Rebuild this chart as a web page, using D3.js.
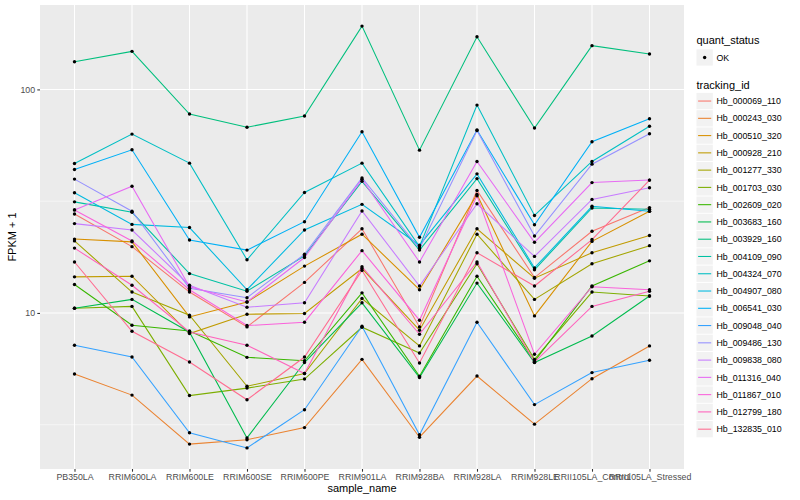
<!DOCTYPE html>
<html>
<head>
<meta charset="utf-8">
<script src="https://cdn.jsdelivr.net/npm/d3@7"></script>
<style>
  body { margin: 0; background: #fff; }
  svg { display: block; font-family: "Liberation Sans", Arial, sans-serif; }
</style>
</head>
<body>
<svg id="chart" width="800" height="500"></svg>
<script>
var samples = ["PB350LA", "RRIM600LA", "RRIM600LE", "RRIM600SE", "RRIM600PE", "RRIM901LA",
  "RRIM928BA", "RRIM928LA", "RRIM928LE", "RRII105LA_Control", "RRII105LA_Stressed"];

var trackingIds = ["Hb_000069_110", "Hb_000243_030", "Hb_000510_320", "Hb_000928_210", "Hb_001277_330",
  "Hb_001703_030", "Hb_002609_020", "Hb_003683_160", "Hb_003929_160", "Hb_004109_090",
  "Hb_004324_070", "Hb_004907_080", "Hb_006541_030", "Hb_009048_040", "Hb_009486_130",
  "Hb_009838_080", "Hb_011316_040", "Hb_011867_010", "Hb_012799_180", "Hb_132835_010"];

// FPKM + 1, one value per sample
var hb_000069_110 = [27.7, 19.8, 12.4, 8.66, 13.7, 23.8, 8.66, 35.3, 14.4, 23.2, 29.6];
var hb_000243_030 = [5.33, 4.29, 2.59, 2.71, 3.07, 6.20, 2.78, 5.22, 3.18, 5.08, 7.12];
var hb_000510_320 = [21.4, 20.8, 9.60, 11.2, 16.2, 22.5, 12.7, 33.9, 9.70, 20.9, 28.5];
var hb_000928_210 = [14.5, 14.6, 8.09, 9.87, 9.94, 15.8, 8.37, 23.8, 14.3, 18.6, 22.2];
var hb_001277_330 = [21.0, 12.4, 9.77, 4.70, 5.36, 11.6, 7.12, 22.5, 11.5, 16.6, 20.0];
var hb_001703_030 = [10.5, 10.7, 4.27, 4.61, 5.06, 8.63, 6.62, 16.6, 6.20, 12.4, 11.9];
var hb_002609_020 = [13.4, 8.81, 8.31, 6.33, 6.11, 12.3, 5.21, 14.6, 6.08, 13.2, 17.1];
var hb_003683_160 = [10.5, 11.5, 8.20, 2.76, 6.00, 11.1, 5.14, 13.6, 6.00, 7.89, 11.9];
var hb_003929_160 = [133, 148, 77.6, 67.7, 76.0, 192, 53.5, 172, 67.2, 157, 144];
var hb_004109_090 = [31.4, 28.2, 15.0, 12.5, 18.0, 38.8, 19.1, 39.9, 15.6, 29.5, 29.1];
var hb_004324_070 = [46.6, 63.1, 46.8, 17.3, 34.6, 46.8, 19.8, 85.1, 27.3, 47.6, 68.4];
var hb_004907_080 = [34.5, 24.9, 24.1, 12.7, 23.5, 30.6, 20.1, 41.9, 15.9, 30.0, 28.5];
var hb_006541_030 = [43.8, 53.7, 21.2, 19.1, 25.6, 64.7, 21.8, 65.8, 24.8, 58.3, 73.9];
var hb_009048_040 = [7.17, 6.35, 2.91, 2.49, 3.69, 8.72, 2.85, 9.09, 3.89, 5.41, 6.14];
var hb_009486_130 = [39.7, 28.5, 12.9, 11.7, 18.3, 40.2, 19.4, 65.5, 22.1, 46.3, 63.3];
var hb_009838_080 = [25.1, 23.5, 13.3, 10.6, 11.1, 28.6, 13.2, 30.8, 17.9, 32.2, 36.3];
var hb_011316_040 = [28.9, 36.9, 13.1, 11.2, 17.7, 39.6, 16.9, 47.6, 20.7, 38.3, 39.3];
var hb_011867_010 = [28.9, 21.0, 12.7, 8.78, 9.09, 19.0, 9.28, 33.4, 6.53, 13.1, 12.7];
var hb_012799_180 = [19.5, 13.3, 8.22, 7.17, 5.36, 16.1, 8.03, 16.9, 6.02, 10.7, 12.5];
var hb_132835_010 = [16.9, 8.28, 6.03, 4.09, 6.35, 15.5, 5.97, 18.6, 13.2, 21.3, 39.3];

var seriesValues = [hb_000069_110, hb_000243_030, hb_000510_320, hb_000928_210, hb_001277_330,
  hb_001703_030, hb_002609_020, hb_003683_160, hb_003929_160, hb_004109_090,
  hb_004324_070, hb_004907_080, hb_006541_030, hb_009048_040, hb_009486_130,
  hb_009838_080, hb_011316_040, hb_011867_010, hb_012799_180, hb_132835_010];

var quantStatus = ["OK"];
var yTicks = [10, 100];
var yMinorTicks = [3.162, 31.62, 316.2];

var palette = ["#F8766D", "#EA8331", "#D89000", "#C09B00", "#A3A500", "#7CAE00", "#39B600", "#00BB4E",
  "#00BF7D", "#00C1A3", "#00BFC4", "#00BAE0", "#00B0F6", "#35A2FF", "#9590FF", "#C77CFF",
  "#E76BF3", "#FA62DB", "#FF62BC", "#FF6C91"];

function draw() {
  var margin = {top: 5, right: 116, bottom: 31, left: 40};
  var width = 800 - margin.left - margin.right;
  var height = 500 - margin.top - margin.bottom;

  var svg = d3.select("#chart");
  svg.selectAll("*").remove();

  var series = trackingIds.map(function(id, i) {
    return {id: id, values: seriesValues[i].map(function(v, j) { return {sample: samples[j], value: v}; })};
  });

  var allValues = d3.merge(seriesValues);
  var lo = Math.log10(d3.min(allValues)), hi = Math.log10(d3.max(allValues));
  var pad = (hi - lo) * 0.05;

  var x = d3.scalePoint().domain(samples).range([0, width]).padding(0.6);
  var y = d3.scaleLog().domain([Math.pow(10, lo - pad), Math.pow(10, hi + pad)]).range([height, 0]);
  var color = d3.scaleOrdinal().domain(trackingIds).range(palette);

  var g = svg.append("g")
    .attr("transform", "translate(" + margin.left + "," + margin.top + ")");

  g.append("rect")
    .attr("width", width)
    .attr("height", height)
    .attr("fill", "#EBEBEB");

  var yDomain = y.domain();
  g.selectAll("line.minor")
    .data(yMinorTicks.filter(function(d) { return d > yDomain[0] && d < yDomain[1]; }))
    .enter().append("line")
    .attr("class", "minor")
    .attr("x1", 0).attr("x2", width)
    .attr("y1", function(d) { return y(d); })
    .attr("y2", function(d) { return y(d); })
    .attr("stroke", "#fff").attr("stroke-width", 0.53);

  g.selectAll("line.major")
    .data(yTicks)
    .enter().append("line")
    .attr("class", "major")
    .attr("x1", 0).attr("x2", width)
    .attr("y1", function(d) { return y(d); })
    .attr("y2", function(d) { return y(d); })
    .attr("stroke", "#fff").attr("stroke-width", 1.07);

  g.selectAll("line.vgrid")
    .data(samples)
    .enter().append("line")
    .attr("class", "vgrid")
    .attr("y1", 0).attr("y2", height)
    .attr("x1", function(d) { return x(d); })
    .attr("x2", function(d) { return x(d); })
    .attr("stroke", "#fff").attr("stroke-width", 1.07);

  var line = d3.line()
    .x(function(d) { return x(d.sample); })
    .y(function(d) { return y(d.value); });

  g.selectAll("path.series")
    .data(series)
    .enter().append("path")
    .attr("class", "series")
    .attr("d", function(d) { return line(d.values); })
    .attr("fill", "none")
    .attr("stroke", function(d) { return color(d.id); })
    .attr("stroke-width", 1.07);

  g.selectAll("circle.pt")
    .data(d3.merge(series.map(function(s) { return s.values; })))
    .enter().append("circle")
    .attr("class", "pt")
    .attr("cx", function(d) { return x(d.sample); })
    .attr("cy", function(d) { return y(d.value); })
    .attr("r", 1.7)
    .attr("fill", "#000");

  // axes
  var yAxis = g.append("g")
    .call(d3.axisLeft(y).tickValues(yTicks).tickFormat(d3.format("d")).tickSize(2.7).tickPadding(2.2));
  var xAxis = g.append("g")
    .attr("transform", "translate(0," + height + ")")
    .call(d3.axisBottom(x).tickSize(2.7).tickPadding(2.2));

  [xAxis, yAxis].forEach(function(ax) {
    ax.select(".domain").remove();
    ax.selectAll(".tick line").attr("stroke", "#333333").attr("stroke-width", 1.07);
    ax.selectAll(".tick text")
      .attr("fill", "#4D4D4D")
      .style("font-size", "8.8px")
      .style("font-family", "'Liberation Sans', Arial, sans-serif");
  });

  svg.append("text")
    .attr("x", margin.left + width / 2)
    .attr("y", 492)
    .attr("text-anchor", "middle")
    .style("font-size", "11px")
    .text("sample_name");

  svg.append("text")
    .attr("transform", "translate(16," + (margin.top + height / 2) + ") rotate(-90)")
    .attr("text-anchor", "middle")
    .style("font-size", "11px")
    .text("FPKM + 1");

  // legends
  var lx = 696.5;
  svg.append("text")
    .attr("x", lx).attr("y", 44)
    .style("font-size", "11px")
    .text("quant_status");

  var qk = svg.selectAll("g.qkey")
    .data(quantStatus)
    .enter().append("g")
    .attr("class", "qkey")
    .attr("transform", function(d, i) { return "translate(" + lx + "," + (49.3 + i * 17.27) + ")"; });
  qk.append("rect").attr("width", 16.3).attr("height", 16.3).attr("fill", "#F2F2F2");
  qk.append("circle").attr("cx", 8.15).attr("cy", 8.15).attr("r", 1.7).attr("fill", "#000");
  qk.append("text").attr("x", 20).attr("y", 11.3).style("font-size", "8.8px").text(function(d) { return d; });

  svg.append("text")
    .attr("x", lx).attr("y", 89)
    .style("font-size", "11px")
    .text("tracking_id");

  var keys = svg.selectAll("g.tkey")
    .data(trackingIds)
    .enter().append("g")
    .attr("class", "tkey")
    .attr("transform", function(d, i) { return "translate(" + lx + "," + (92.9 + i * 17.27) + ")"; });
  keys.append("rect").attr("width", 16.3).attr("height", 16.3).attr("fill", "#F2F2F2");
  keys.append("line")
    .attr("x1", 1.6).attr("x2", 14.7)
    .attr("y1", 8.15).attr("y2", 8.15)
    .attr("stroke", function(d) { return color(d); })
    .attr("stroke-width", 1.07);
  keys.append("text")
    .attr("x", 20).attr("y", 11.3)
    .style("font-size", "8.8px")
    .text(function(d) { return d; });
}

draw();
</script>
</body>
</html>
